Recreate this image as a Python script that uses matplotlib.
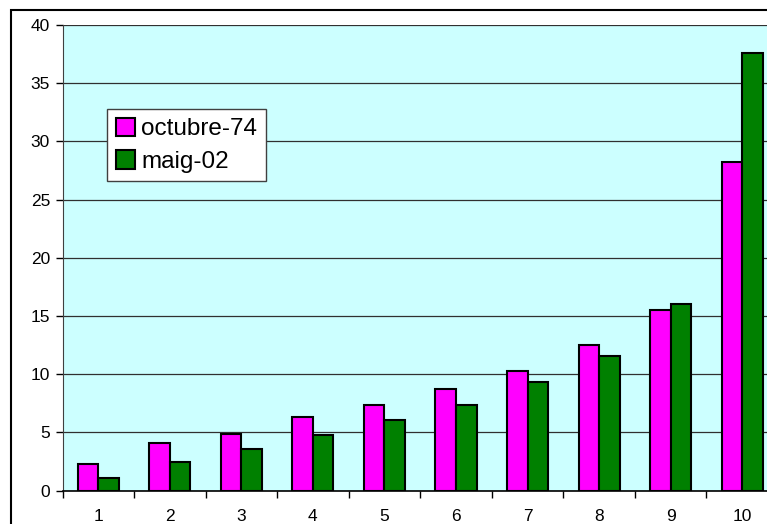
import numpy as np
import matplotlib.pyplot as plt
from matplotlib.patches import Rectangle

plt.rcParams['font.family'] = ['Liberation Sans', 'DejaVu Sans']

categories = ['1', '2', '3', '4', '5', '6', '7', '8', '9', '10']
octubre_74 = [2.3, 4.1, 4.9, 6.3, 7.4, 8.7, 10.3, 12.5, 15.5, 28.2]
maig_02 = [1.1, 2.5, 3.6, 4.8, 6.1, 7.4, 9.3, 11.6, 16.0, 37.6]

fig = plt.figure(figsize=(7.67, 5.24), dpi=100)
# plot area runs past the right edge of the picture, as in the original
ax = fig.add_axes([62.5 / 767, 33.3 / 524, 715.5 / 767, 465.7 / 524])
ax.set_facecolor('#CCFFFF')

x = np.arange(1, len(categories) + 1)
w = 0.287
ax.bar(x - w / 2, octubre_74, w, color='#FF00FF', edgecolor='black', linewidth=1.5,
       label='octubre-74', zorder=3)
ax.bar(x + w / 2, maig_02, w, color='#008000', edgecolor='black', linewidth=1.5,
       label='maig-02', zorder=3)

ax.set_xlim(0.5, 10.5)
ax.set_ylim(0, 40)
ax.set_yticks(range(0, 41, 5))
ax.set_xticks(x)
ax.set_xticklabels(categories)
ax.set_xticks(np.arange(0.5, 11, 1), minor=True)
ax.tick_params(axis='x', which='major', length=0, pad=13, labelsize=12.5)
ax.tick_params(axis='x', which='minor', length=5, width=1, direction='out')
ax.tick_params(axis='y', length=5, width=1, direction='out', pad=4, labelsize=12.5)
ax.yaxis.grid(True, color='#303030', linewidth=0.9, zorder=1)
ax.set_axisbelow(True)

for side in ['top', 'right']:
    ax.spines[side].set_visible(False)
ax.spines['left'].set_color('#404040')
ax.spines['bottom'].set_color('black')
ax.spines['bottom'].set_linewidth(1.2)

leg = ax.legend(loc='upper left', bbox_to_anchor=(107 / 767, 1 - 109 / 524),
                bbox_transform=fig.transFigure, borderaxespad=0, fontsize=17.5,
                fancybox=False, framealpha=1, edgecolor='#404040',
                handlelength=0.8, handleheight=0.8, handletextpad=0.25,
                borderpad=0.35, labelspacing=0.4)
leg.get_frame().set_linewidth(1.0)

# outer chart border
fig.patches.append(Rectangle((11 / 767, -0.5), 2, 1.5 - 10 / 524, transform=fig.transFigure,
                             fill=False, edgecolor='black', linewidth=1.5))

fig.savefig('out.png', dpi=100)
